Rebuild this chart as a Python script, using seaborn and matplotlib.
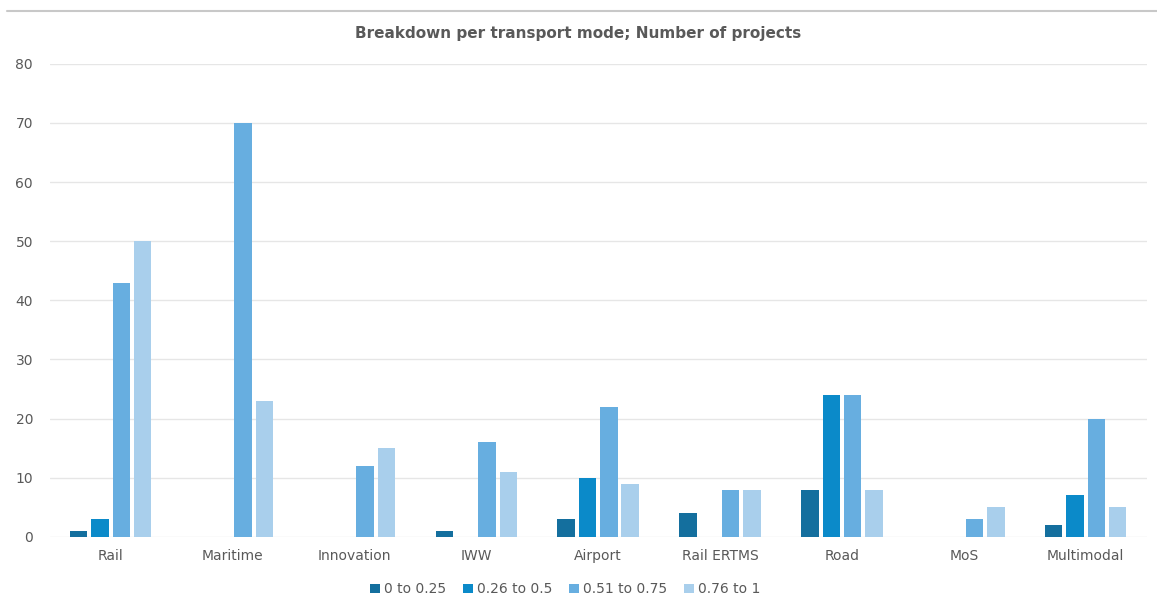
import matplotlib
matplotlib.use("Agg")
import matplotlib.pyplot as plt
import pandas as pd
import seaborn as sns

modes = ["Rail", "Maritime", "Innovation", "IWW", "Airport", "Rail ERTMS", "Road", "MoS", "Multimodal"]
ranges = ["0 to 0.25", "0.26 to 0.5", "0.51 to 0.75", "0.76 to 1"]

r_0_025 = [1, 0, 0, 1, 3, 4, 8, 0, 2]
r_026_05 = [3, 0, 0, 0, 10, 0, 24, 0, 7]
r_051_075 = [43, 70, 12, 16, 22, 8, 24, 3, 20]
r_076_1 = [50, 23, 15, 11, 9, 8, 8, 5, 5]

colors = ["#146f9e", "#0b8ac9", "#67aee0", "#a9cfec"]

rows = []
for name, vals in zip(ranges, [r_0_025, r_026_05, r_051_075, r_076_1]):
    for m, v in zip(modes, vals):
        rows.append({"mode": m, "range": name, "projects": v})
df = pd.DataFrame(rows)

sns.set_style("white")
plt.rcParams["font.family"] = ["DejaVu Sans"]

fig = plt.figure(figsize=(11.57, 6.08), dpi=100)
ax = fig.add_axes([0.043, 0.117, 0.948, 0.778])

sns.barplot(data=df, x="mode", y="projects", hue="range", order=modes, hue_order=ranges,
            palette=colors, width=0.7, gap=0.18, saturation=1, linewidth=0, ax=ax, legend=True)

ax.set_ylim(0, 80)
ax.set_xlim(-0.5, 8.5)
ax.set_yticks(range(0, 81, 10))
ax.yaxis.grid(True, color="#e6e6e6", linewidth=1)
ax.set_axisbelow(True)
for s in ax.spines.values():
    s.set_visible(False)
ax.tick_params(axis="both", length=0, colors="#595959", labelsize=10)
ax.tick_params(axis="y", pad=12)
ax.tick_params(axis="x", pad=9)
ax.set_xlabel("")
ax.set_ylabel("")

fig.text(0.5, 0.945, "Breakdown per transport mode; Number of projects", ha="center", va="center",
         fontsize=11, fontweight="bold", color="#595959")

leg = ax.legend(loc="upper center", bbox_to_anchor=(0.47, -0.07), ncol=4, frameon=False,
                fontsize=10, handlelength=0.7, handleheight=0.7, handletextpad=0.3, columnspacing=1.2)
for t in leg.get_texts():
    t.set_color("#595959")

# thin grey border line at the top of the image
fig.add_artist(plt.Line2D([0.006, 1.0], [0.982, 0.982], color="#c8c8c8", linewidth=1.5, transform=fig.transFigure))

fig.savefig("out.png", dpi=100)
